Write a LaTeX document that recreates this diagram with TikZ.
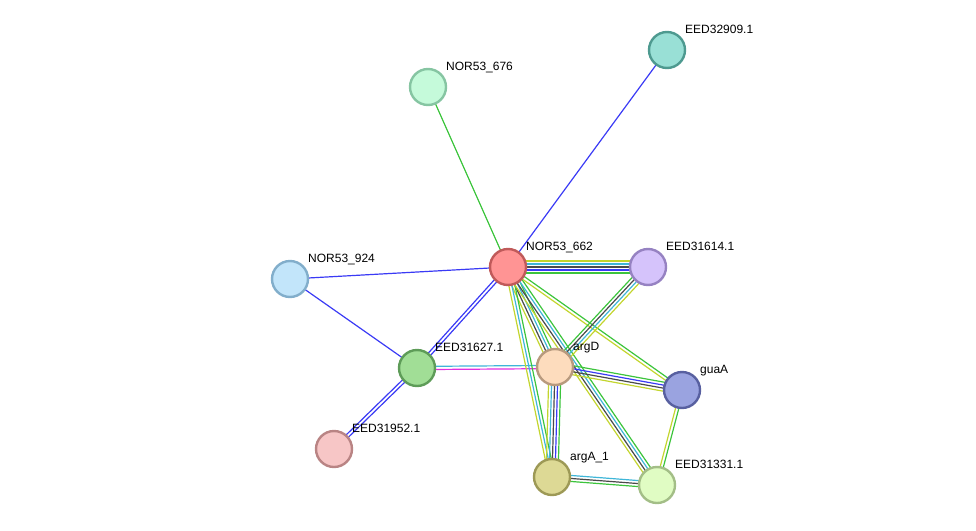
\documentclass[tikz,border=0pt]{standalone}
\usepackage{fontspec}
\setmainfont{Liberation Sans}
\usetikzlibrary{calc}
\pgfdeclarelayer{bg}
\pgfsetlayers{bg,main}

% evidence channel colours
\definecolor{lkG}{HTML}{3CC43C}
\definecolor{lkY}{HTML}{C3D52E}
\definecolor{lkC}{HTML}{3FB6D8}
\definecolor{lkK}{HTML}{4A4A4A}
\definecolor{lkB}{HTML}{3A3AF5}
\definecolor{lkM}{HTML}{E030E0}

\tikzset{
  prot/.style={circle, minimum size=36pt, inner sep=0pt, line width=2.4pt},
  plabel/.style={anchor=base west, inner sep=0pt, font=\fontsize{12}{14}\selectfont},
  link/.style={line width=1.2pt},
}

% draw a bundle of parallel strands between two nodes: colour/offset pairs
\newcommand\strands[3]{%
  \foreach \col/\off in {#3}{%
    \draw[link,\col] ($(#1)!\off pt!90:(#2)$) -- ($(#2)!\off pt!-90:(#1)$);%
  }%
}

\begin{document}
\begin{tikzpicture}[x=1pt,y=-1pt]
\useasboundingbox (0,0) rectangle (976,530);

\node[prot, fill={rgb,255:red,153;green,224;blue,214}, draw={rgb,255:red,78;green,154;blue,144}] (p32909) at (667,50) {};
\node[prot, fill={rgb,255:red,197;green,250;blue,218}, draw={rgb,255:red,134;green,197;blue,162}] (p676) at (428,87) {};
\node[prot, fill={rgb,255:red,255;green,148;blue,148}, draw={rgb,255:red,192;green,90;blue,90}] (p662) at (508,267) {};
\node[prot, fill={rgb,255:red,213;green,195;blue,251}, draw={rgb,255:red,150;green,130;blue,194}] (p31614) at (648,267) {};
\node[prot, fill={rgb,255:red,194;green,229;blue,250}, draw={rgb,255:red,130;green,174;blue,203}] (p924) at (290,279) {};
\node[prot, fill={rgb,255:red,161;green,222;blue,150}, draw={rgb,255:red,94;green,156;blue,88}] (p31627) at (417,368) {};
\node[prot, fill={rgb,255:red,253;green,220;blue,189}, draw={rgb,255:red,184;green,154;blue,126}] (argD) at (555,367) {};
\node[prot, fill={rgb,255:red,154;green,163;blue,224}, draw={rgb,255:red,88;green,96;blue,160}] (guaA) at (682,390) {};
\node[prot, fill={rgb,255:red,247;green,198;blue,198}, draw={rgb,255:red,185;green,132;blue,132}] (p31952) at (334,449) {};
\node[prot, fill={rgb,255:red,221;green,217;blue,149}, draw={rgb,255:red,157;green,153;blue,86}] (argA) at (552,477) {};
\node[prot, fill={rgb,255:red,224;green,252;blue,195}, draw={rgb,255:red,163;green,190;blue,135}] (p31331) at (657,485) {};

\node[plabel] (l32909) at (685,33) {EED32909.1};
\node[plabel] (l676) at (446,70) {NOR53\_676};
\node[plabel] (l662) at (526,250) {NOR53\_662};
\node[plabel] (l31614) at (666,250) {EED31614.1};
\node[plabel] (l924) at (308,262) {NOR53\_924};
\node[plabel] (l31627) at (435,351) {EED31627.1};
\node[plabel] (largD) at (573,350) {argD};
\node[plabel] (lguaA) at (700,373) {guaA};
\node[plabel] (l31952) at (352,432) {EED31952.1};
\node[plabel] (largA) at (570,460) {argA\_1};
\node[plabel] (l31331) at (675,468) {EED31331.1};

\begin{pgfonlayer}{bg}
  \strands{p662}{p676}{lkG/0}
  \strands{p662}{p32909}{lkB/0}
  \strands{p924}{p662}{lkB/0}
  \strands{p924}{p31627}{lkB/0}
  \strands{p662}{p31627}{lkB/1.6,lkB/-1.6}
  \strands{p31627}{p31952}{lkB/1.6,lkB/-1.6}
  \strands{p31627}{argD}{lkC/1.6,lkM/-1.6}
  \strands{p662}{p31614}{lkY/6,lkC/3,lkK/0,lkB/-3,lkG/-6}
  \strands{p662}{argD}{lkG/4.5,lkC/1.5,lkK/-1.5,lkY/-4.5}
  \strands{p662}{argA}{lkG/3,lkC/0,lkY/-3}
  \strands{p662}{p31331}{lkG/4.5,lkC/1.5,lkK/-1.5,lkY/-4.5}
  \strands{p662}{guaA}{lkG/1.6,lkY/-1.6}
  \strands{p31614}{argD}{lkG/-4.5,lkK/-1.5,lkC/1.5,lkY/4.5}
  \strands{argD}{argA}{lkG/6,lkB/3,lkK/0,lkC/-3,lkY/-6}
  \strands{argD}{guaA}{lkG/4.5,lkB/1.5,lkK/-1.5,lkY/-4.5}
  \strands{argA}{p31331}{lkC/3,lkK/0,lkG/-3}
  \strands{guaA}{p31331}{lkG/1.6,lkY/-1.6}
\end{pgfonlayer}
\end{tikzpicture}
\end{document}
